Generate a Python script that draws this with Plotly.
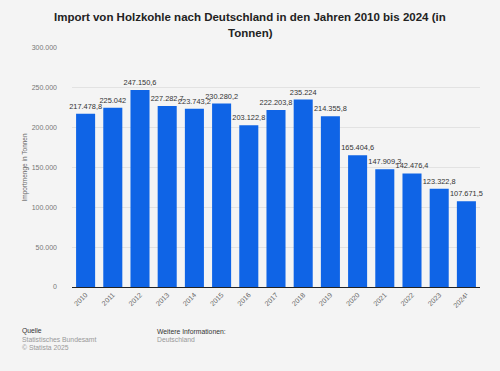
import plotly.graph_objects as go

years = ["2010", "2011", "2012", "2013", "2014", "2015", "2016", "2017",
         "2018", "2019", "2020", "2021", "2022", "2023", "2024¹"]
values = [217478.8, 225042, 247150.6, 227282.7, 223743.2, 230280.2, 203122.8,
          222203.8, 235224, 214355.8, 165404.6, 147909.3, 142476.4, 123322.8, 107671.5]
labels = ["217.478,8", "225.042", "247.150,6", "227.282,7", "223.743,2", "230.280,2",
          "203.122,8", "222.203,8", "235.224", "214.355,8", "165.404,6", "147.909,3",
          "142.476,4", "123.322,8", "107.671,5"]
tickvals = [0, 50000, 100000, 150000, 200000, 250000, 300000]
ticktext = ["0", "50.000", "100.000", "150.000", "200.000", "250.000", "300.000"]

FONT = "Liberation Sans, Arial, sans-serif"

fig = go.Figure(go.Bar(
    x=years, y=values, text=labels, textposition="outside",
    textfont=dict(size=7.4, color="#333333", family=FONT),
    constraintext="none",
    marker=dict(color="#0f64e6", line=dict(width=0)),
    cliponaxis=False,
))

fig.update_layout(
    width=500, height=371,
    margin=dict(l=72, r=20, t=48, b=84),
    paper_bgcolor="#f4f4f4", plot_bgcolor="#f4f4f4",
    bargap=0.3,
    showlegend=False,
    xaxis=dict(tickangle=-45, tickfont=dict(size=7, color="#666666", family=FONT),
               showline=True, linecolor="#222222", linewidth=1.2,
               showgrid=False, ticks="", automargin=False),
    yaxis=dict(range=[0, 300000], tickvals=tickvals, ticktext=ticktext,
               tickfont=dict(size=7, color="#777777", family=FONT),
               showgrid=True, gridcolor="#e2e2e2", gridwidth=1, zeroline=False,
               ticks="", ticklen=0, ticklabelstandoff=14, automargin=False,
               title=dict(text="Importmenge in Tonnen", standoff=3,
                          font=dict(size=6.5, color="#666666", family=FONT))),
)

# title as two centered lines
for line, ypx in [("Import von Holzkohle nach Deutschland in den Jahren 2010 bis 2024 (in", 17),
                  ("Tonnen)", 33)]:
    fig.add_annotation(text="<b>" + line + "</b>", xref="paper", yref="paper",
                       x=(250 - 72) / 408, y=(287 - ypx) / 239,
                       xanchor="center", yanchor="middle", showarrow=False,
                       font=dict(size=11.5, color="#222222", family=FONT))

ann = [
    dict(text="Quelle", x=20, y=331, color="#333333"),
    dict(text="Statistisches Bundesamt", x=20, y=339, color="#999999"),
    dict(text="© Statista 2025", x=20, y=347, color="#999999"),
    dict(text="Weitere Informationen:", x=155, y=331, color="#333333"),
    dict(text="Deutschland", x=155, y=339, color="#999999"),
]
for a in ann:
    fig.add_annotation(text=a["text"], xref="paper", yref="paper",
                       x=(a["x"] - 72) / 408, y=(287 - a["y"]) / 239,
                       xanchor="left", yanchor="middle", showarrow=False,
                       font=dict(size=6.8, color=a["color"], family=FONT))

fig.write_html("out.html", config={"displayModeBar": False},
               post_script="document.body.style.margin='0';")
